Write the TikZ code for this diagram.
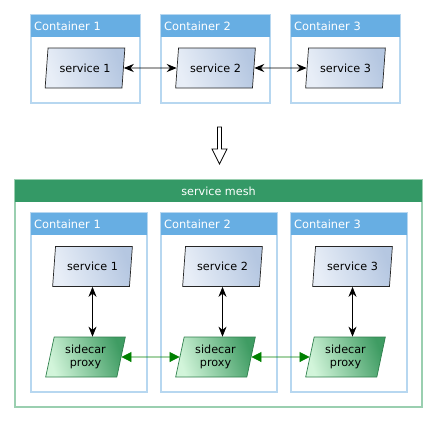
\documentclass[tikz,border=0pt]{standalone}
\usepackage{fontspec}
\setmainfont{DejaVu Sans}
\usetikzlibrary{shapes.geometric,arrows.meta}
\definecolor{hdrblue}{HTML}{67AEE3}
\definecolor{bordblue}{HTML}{B7D7F0}
\definecolor{meshgreen}{HTML}{349966}
\definecolor{meshbord}{HTML}{9ACFB0}
\definecolor{svcl}{HTML}{E8EEF7}
\definecolor{svcr}{HTML}{B5C7E1}
\definecolor{pxl}{HTML}{D2F5DA}
\definecolor{pxr}{HTML}{3F9C63}
\definecolor{pxbord}{HTML}{2F7F4C}
\definecolor{arrgreen}{HTML}{008000}
\begin{document}
\begin{tikzpicture}[x=1pt,y=-1pt,font=\fontsize{11.2}{13}\selectfont,
  para/.style={trapezium, trapezium left angle=77, trapezium right angle=103,
    trapezium stretches=true, minimum width=80, minimum height=40, inner sep=0pt, align=center},
  svc/.style={para, draw=black!85, line width=0.7pt, left color=svcl, right color=svcr, shading angle=110},
  proxy/.style={para, draw=pxbord, line width=0.7pt, left color=pxl, right color=pxr, shading angle=110},
  contbox/.style={draw=bordblue, line width=1.3pt},
  hdrtext/.style={text=white, anchor=west, inner sep=0pt, font=\fontsize{11.4}{13}\selectfont},
  blk/.style={{Stealth[length=10pt,width=8pt]}-{Stealth[length=10pt,width=8pt]}, line width=0.8pt},
  grn/.style={{Triangle[length=10pt,width=10pt]}-{Triangle[length=10pt,width=10pt]}, line width=0.8pt, draw=arrgreen, color=arrgreen}
]
\useasboundingbox (0,0) rectangle (438,423);

% ---- top row containers
\foreach \xl/\xr/\n in {31/140/1,161/270/2,291/400/3}{
  \draw[contbox] (\xl,15) rectangle (\xr,103);
  \fill[hdrblue] (\xl,15) rectangle (\xr,37);
  \node[hdrtext] (th\n) at (\xl+3,26) {Container \n};
}
\node[svc] (s1) at (85,68) {service 1};
\node[svc] (s2) at (215.5,68) {service 2};
\node[svc] (s3) at (345.5,68) {service 3};
\draw[blk] (s1) -- (s2);
\draw[blk] (s2) -- (s3);

% ---- block arrow
\draw[black, line width=0.8pt, fill=white, line join=miter]
  (217.5,127) -- (221.5,127) -- (221.5,149) -- (227,149) -- (219.5,164)
  -- (212,149) -- (217.5,149) -- cycle;

% ---- service mesh
\draw[draw=meshbord, line width=1.3pt] (15,180) rectangle (422,407);
\fill[meshgreen] (15,180) rectangle (422,202);
\node[text=white, inner sep=0pt] (mesh) at (218.5,191) {service mesh};

\foreach \xl/\xr/\n in {31/147/1,161/277/2,291/407/3}{
  \draw[contbox] (\xl,213) rectangle (\xr,392);
  \fill[hdrblue] (\xl,213) rectangle (\xr,235);
  \node[hdrtext] (bh\n) at (\xl+3,224) {Container \n};
}
\node[svc] (b1) at (92.5,266.5) {service 1};
\node[svc] (b2) at (222.5,266.5) {service 2};
\node[svc] (b3) at (352.5,266.5) {service 3};
\node[proxy] (p1) at (85.5,357) {sidecar\\proxy};
\node[proxy] (p2) at (215.5,357) {sidecar\\proxy};
\node[proxy] (p3) at (345.5,357) {sidecar\\proxy};

\draw[blk] (b1.south) -- (b1.south |- p1.north);
\draw[blk] (b2.south) -- (b2.south |- p2.north);
\draw[blk] (b3.south) -- (b3.south |- p3.north);
\draw[grn] (p1) -- (p2);
\draw[grn] (p2) -- (p3);
\end{tikzpicture}
\end{document}
